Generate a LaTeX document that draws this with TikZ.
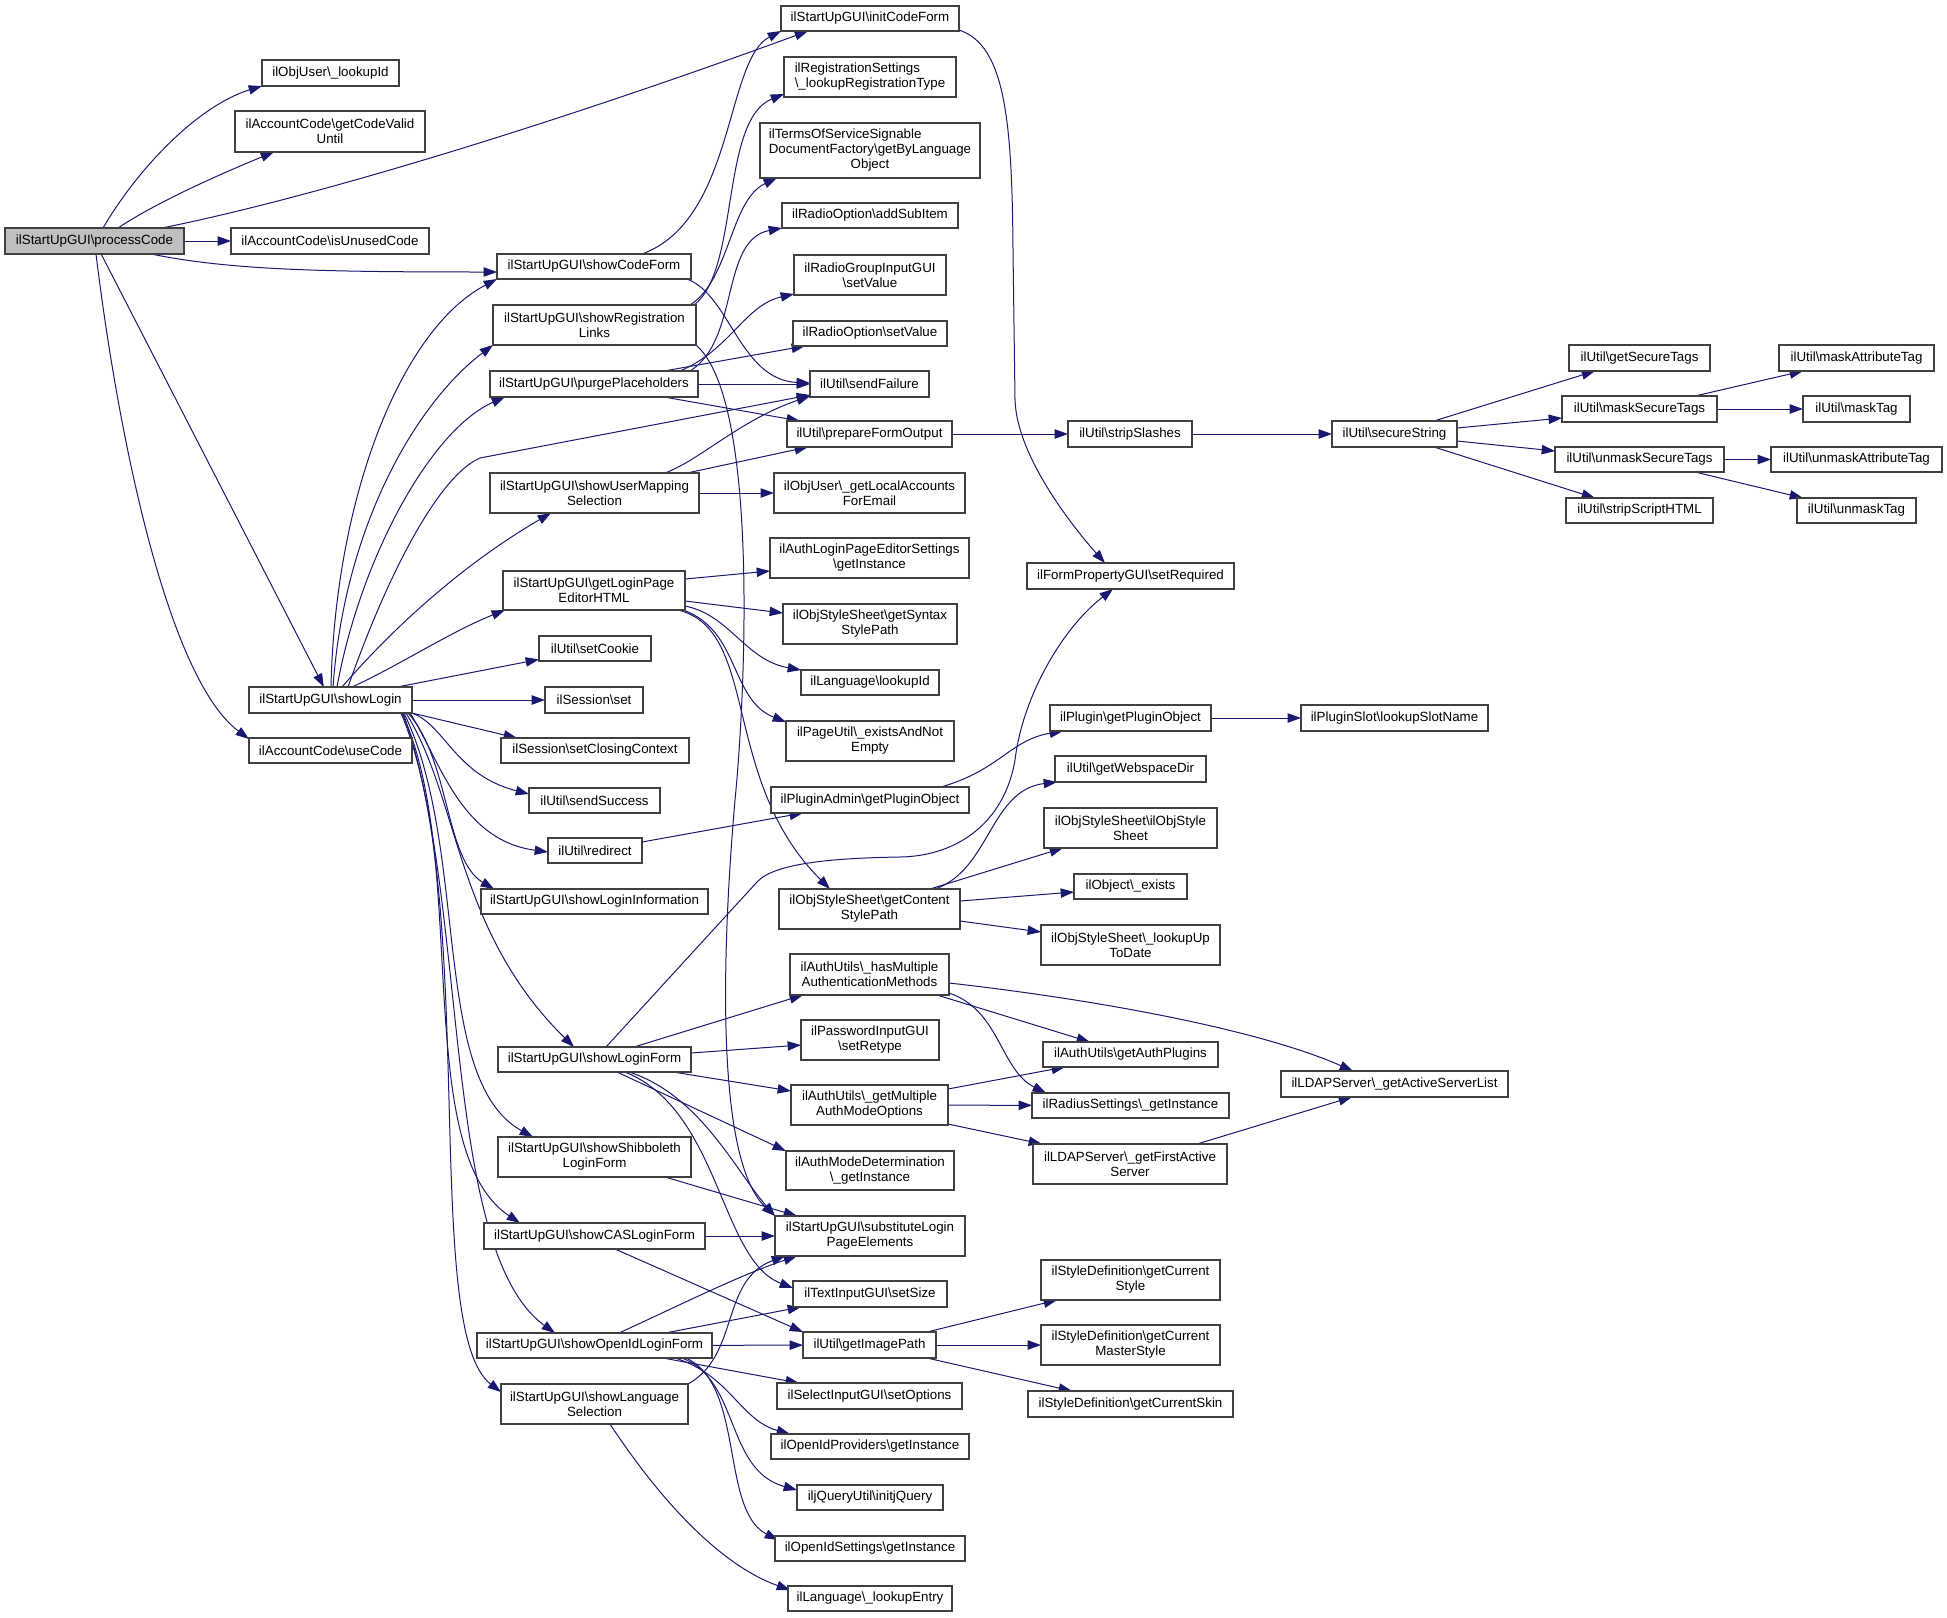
\documentclass[tikz,border=0pt]{standalone}
\usepackage{fontspec}
\setmainfont{Liberation Sans}
\usetikzlibrary{arrows.meta,calc}
\definecolor{edgeblue}{HTML}{191970}
\definecolor{boxline}{HTML}{404040}
\definecolor{rootfill}{HTML}{BFBFBF}
\newcommand\bs{\textbackslash}
\pgfdeclarelayer{bg}
\pgfsetlayers{bg,main}
\newcommand\mybox[7][]{%
  \node[bx,#1,minimum width={(#5-#3)*0.75pt},minimum height={(#6-#4)*0.75pt}] (#2) at ({(#3+#5)/2},{(#4+#6)/2}) {#7};}
\begin{document}
\begin{tikzpicture}[x=0.75pt,y=-0.75pt,
  bx/.style={draw=boxline,fill=white,line width=0.9pt,inner sep=0pt,outer sep=0pt,align=center,
    font=\fontsize{10}{11.25}\selectfont},
  cn/.style={draw=edgeblue,line width=0.75pt,-{Triangle[length=10pt,width=7pt]}}]
\useasboundingbox (0,0) rectangle (1947,1617);

% column 0/1
\mybox[fill=rootfill]{pc}{5}{228}{184}{254}{ilStartUpGUI\bs processCode}
\mybox{oulid}{262}{60}{399}{86}{ilObjUser\bs\_lookupId}
\mybox{gcvu}{235}{111}{425}{152}{ilAccountCode\bs getCodeValid\\Until}
\mybox{iuc}{231}{228}{429}{254}{ilAccountCode\bs isUnusedCode}
\mybox{login}{249}{687}{412}{713}{ilStartUpGUI\bs showLogin}
\mybox{use}{249}{738}{412}{763}{ilAccountCode\bs useCode}
% column 2
\mybox{scf}{497}{254}{691}{279}{ilStartUpGUI\bs showCodeForm}
\mybox{srl}{493}{305}{696}{345}{ilStartUpGUI\bs showRegistration\\Links}
\mybox{pph}{490}{371}{698}{397}{ilStartUpGUI\bs purgePlaceholders}
\mybox{sums}{490}{473}{699}{513}{ilStartUpGUI\bs showUserMapping\\Selection}
\mybox{glpe}{503}{571}{685}{610}{ilStartUpGUI\bs getLoginPage\\EditorHTML}
\mybox{cookie}{539}{636}{651}{661}{ilUtil\bs setCookie}
\mybox{sset}{545}{687}{643}{713}{ilSession\bs set}
\mybox{scc}{501}{738}{689}{763}{ilSession\bs setClosingContext}
\mybox{ssucc}{529}{788}{660}{813}{ilUtil\bs sendSuccess}
\mybox{redir}{548}{838}{642}{863}{ilUtil\bs redirect}
\mybox{sli}{481}{889}{708}{914}{ilStartUpGUI\bs showLoginInformation}
\mybox{slf}{498}{1047}{691}{1072}{ilStartUpGUI\bs showLoginForm}
\mybox{sslf}{498}{1137}{691}{1177}{ilStartUpGUI\bs showShibboleth\\LoginForm}
\mybox{scas}{484}{1223}{705}{1249}{ilStartUpGUI\bs showCASLoginForm}
\mybox{soid}{477}{1333}{712}{1358}{ilStartUpGUI\bs showOpenIdLoginForm}
\mybox{slang}{501}{1384}{688}{1424}{ilStartUpGUI\bs showLanguage\\Selection}
% column 3
\mybox{icf}{781}{6}{959}{31}{ilStartUpGUI\bs initCodeForm}
\mybox[align=left]{lrt}{784}{57}{956}{97}{ilRegistrationSettings\\\bs\_lookupRegistrationType}
\mybox{tos}{760}{123}{980}{178}{\begin{tabular}{@{}l@{}}ilTermsOfServiceSignable\\DocumentFactory\bs getByLanguage\\\multicolumn{1}{@{}c@{}}{Object}\end{tabular}}
\mybox{asi}{782}{203}{958}{228}{ilRadioOption\bs addSubItem}
\mybox{rgsv}{794}{255}{946}{295}{ilRadioGroupInputGUI\\\bs setValue}
\mybox{rosv}{793}{321}{947}{346}{ilRadioOption\bs setValue}
\mybox{sf}{810}{371}{929}{397}{ilUtil\bs sendFailure}
\mybox{pfo}{787}{421}{952}{447}{ilUtil\bs prepareFormOutput}
\mybox{glae}{774}{473}{965}{513}{ilObjUser\bs\_getLocalAccounts\\ForEmail}
\mybox{alpes}{770}{538}{969}{578}{ilAuthLoginPageEditorSettings\\\bs getInstance}
\mybox{gssp}{783}{604}{957}{644}{ilObjStyleSheet\bs getSyntax\\StylePath}
\mybox{llid}{801}{670}{939}{695}{ilLanguage\bs lookupId}
\mybox{pue}{786}{721}{954}{761}{ilPageUtil\bs\_existsAndNot\\Empty}
\mybox{pago}{771}{787}{969}{813}{ilPluginAdmin\bs getPluginObject}
\mybox{gcsp}{779}{889}{960}{929}{ilObjStyleSheet\bs getContent\\StylePath}
\mybox{hmam}{790}{954}{949}{995}{ilAuthUtils\bs\_hasMultiple\\AuthenticationMethods}
\mybox{pwr}{801}{1020}{939}{1060}{ilPasswordInputGUI\\\bs setRetype}
\mybox{gmamo}{791}{1085}{948}{1125}{ilAuthUtils\bs\_getMultiple\\AuthModeOptions}
\mybox{amd}{786}{1151}{954}{1190}{ilAuthModeDetermination\\\bs\_getInstance}
\mybox{subst}{775}{1216}{965}{1256}{ilStartUpGUI\bs substituteLogin\\PageElements}
\mybox{tss}{793}{1281}{947}{1307}{ilTextInputGUI\bs setSize}
\mybox{gip}{803}{1332}{936}{1358}{ilUtil\bs getImagePath}
\mybox{sso}{777}{1383}{962}{1409}{ilSelectInputGUI\bs setOptions}
\mybox{oidp}{771}{1434}{969}{1459}{ilOpenIdProviders\bs getInstance}
\mybox{jq}{797}{1485}{943}{1510}{iljQueryUtil\bs initjQuery}
\mybox{oids}{775}{1536}{965}{1561}{ilOpenIdSettings\bs getInstance}
\mybox{lle}{788}{1586}{952}{1611}{ilLanguage\bs\_lookupEntry}
% column 4
\mybox{ssl}{1068}{421}{1192}{447}{ilUtil\bs stripSlashes}
\mybox{fpsr}{1027}{563}{1234}{589}{ilFormPropertyGUI\bs setRequired}
\mybox{pgpo}{1050}{705}{1211}{731}{ilPlugin\bs getPluginObject}
\mybox{gwd}{1055}{756}{1206}{782}{ilUtil\bs getWebspaceDir}
\mybox{oss}{1044}{808}{1217}{848}{ilObjStyleSheet\bs ilObjStyle\\Sheet}
\mybox{oex}{1074}{874}{1187}{899}{ilObject\bs\_exists}
\mybox{lutd}{1041}{925}{1220}{965}{ilObjStyleSheet\bs\_lookupUp\\ToDate}
\mybox{gap}{1043}{1042}{1218}{1067}{ilAuthUtils\bs getAuthPlugins}
\mybox{rsgi}{1032}{1093}{1229}{1118}{ilRadiusSettings\bs\_getInstance}
\mybox{gfas}{1033}{1144}{1227}{1184}{ilLDAPServer\bs\_getFirstActive\\Server}
\mybox{gcs}{1041}{1260}{1220}{1300}{ilStyleDefinition\bs getCurrent\\Style}
\mybox{gcms}{1041}{1325}{1220}{1365}{ilStyleDefinition\bs getCurrent\\MasterStyle}
\mybox{gcsk}{1028}{1391}{1233}{1417}{ilStyleDefinition\bs getCurrentSkin}
% column 5
\mybox{ss}{1332}{421}{1457}{447}{ilUtil\bs secureString}
\mybox{psln}{1301}{705}{1488}{731}{ilPluginSlot\bs lookupSlotName}
\mybox{gasl}{1281}{1071}{1508}{1097}{ilLDAPServer\bs\_getActiveServerList}
% column 6/7
\mybox{gst}{1569}{345}{1710}{371}{ilUtil\bs getSecureTags}
\mybox{mst}{1562}{396}{1717}{422}{ilUtil\bs maskSecureTags}
\mybox{ust}{1555}{447}{1724}{472}{ilUtil\bs unmaskSecureTags}
\mybox{ssh}{1566}{498}{1713}{523}{ilUtil\bs stripScriptHTML}
\mybox{mat}{1779}{345}{1934}{371}{ilUtil\bs maskAttributeTag}
\mybox{mt}{1803}{396}{1910}{422}{ilUtil\bs maskTag}
\mybox{uat}{1771}{447}{1942}{472}{ilUtil\bs unmaskAttributeTag}
\mybox{ut}{1797}{498}{1916}{523}{ilUtil\bs unmaskTag}

\begin{pgfonlayer}{bg}
\fill[white] (0,0) rectangle (1947,1617);
% processCode
\draw[cn] ($(pc.north west)+(98,0)$) .. controls (140,165) and (200,105) .. (oulid.south west);
\draw[cn] ($(pc.north west)+(113,0)$) .. controls (160,200) and (230,170) .. ($(gcvu.north west)+(39,41)$);
\draw[cn] ($(pc.north west)+(157,0)$) .. controls (350,190) and (620,100) .. ($(icf.north west)+(27,25)$);
\draw[cn] (pc) -- (iuc);
\draw[cn] ($(pc.north west)+(146,26)$) .. controls (230,270) and (320,272) .. ($(scf.north west)+(0,18)$);
\draw[cn] (pc) -- (login);
\draw[cn] ($(pc.north west)+(91,26)$) .. controls (120,450) and (170,680) .. ($(use.north west)+(0,1)$);
% showLogin
\draw[cn] ($(login.north west)+(82,0)$) .. controls (335,500) and (400,330) .. ($(scf.north west)+(0,25)$);
\draw[cn] ($(login.north west)+(84,0)$) .. controls (345,520) and (420,400) .. ($(srl.north west)+(0,40)$);
\draw[cn] ($(login.north west)+(88,0)$) .. controls (360,560) and (430,430) .. ($(pph.north west)+(15,26)$);
\draw[cn] ($(login.north west)+(99,0)$) .. controls (389,570) and (440,475) .. (480,458) -- ($(sf.north west)+(0,24)$);
\draw[cn] ($(login.north west)+(93,0)$) .. controls (400,620) and (470,560) .. ($(sums.north west)+(61,40)$);
\draw[cn] ($(login.north west)+(103,0)$) .. controls (400,665) and (450,632) .. ($(glpe.north west)+(2,39)$);
\draw[cn] (login) -- (cookie);
\draw[cn] (login) -- (sset);
\draw[cn] (login.south east) -- ($(scc.north west)+(16,0)$);
\draw[cn] (login.south east) .. controls (445,725) and (455,775) .. ($(ssucc.north west)+(0,6)$);
\draw[cn] ($(login.north west)+(161,26)$) .. controls (440,760) and (460,840) .. ($(redir.north west)+(0,14)$);
\draw[cn] ($(login.north west)+(159,26)$) .. controls (450,760) and (445,860) .. ($(sli.north west)+(13,0)$);
\draw[cn] ($(login.north west)+(157,26)$) .. controls (460,800) and (455,930) .. ($(slf.north west)+(76,0)$);
\draw[cn] ($(login.north west)+(155,26)$) .. controls (470,850) and (430,1080) .. ($(sslf.north west)+(35,0)$);
\draw[cn] ($(login.north west)+(153,26)$) .. controls (470,860) and (410,1150) .. ($(scas.north west)+(36,0)$);
\draw[cn] ($(login.north west)+(154,26)$) .. controls (470,900) and (440,1250) .. ($(soid.north west)+(78,0)$);
\draw[cn] ($(login.north west)+(152,26)$) .. controls (480,900) and (420,1330) .. ($(slang.north west)+(0,8)$);
% showCodeForm
\draw[cn] ($(scf.north west)+(145,0)$) .. controls (735,220) and (725,60) .. ($(icf.north west)+(0,25)$);
\draw[cn] ($(scf.north west)+(190,25)$) .. controls (730,295) and (740,380) .. ($(sf.north west)+(0,12)$);
% showRegistrationLinks
\draw[cn] ($(srl.north west)+(201,0)$) .. controls (740,270) and (720,120) .. ($(lrt.north west)+(0,37)$);
\draw[cn] ($(srl.north west)+(197,0)$) .. controls (730,280) and (730,200) .. ($(tos.north west)+(17,55)$);
\draw[cn] ($(srl.north west)+(203,40)$) .. controls (760,400) and (745,700) .. (735,800) .. controls (722,950) and (715,1160) .. (subst.north west);
% purgePlaceholders
\draw[cn] ($(pph.north west)+(200,0)$) .. controls (740,340) and (720,240) .. ($(asi.north west)+(0,25)$);
\draw[cn] ($(pph.north west)+(190,0)$) .. controls (730,350) and (745,305) .. ($(rgsv.north west)+(0,39)$);
\draw[cn] ($(pph.north west)+(174,0)$) -- ($(rosv.north west)+(12,25)$);
\draw[cn] (pph) -- (sf);
\draw[cn] ($(pph.north west)+(174,26)$) -- ($(pfo.north west)+(13,0)$);
% showUserMappingSelection
\draw[cn] ($(sums.north west)+(175,0)$) .. controls (700,460) and (740,420) .. ($(sf.north west)+(0,25)$);
\draw[cn] ($(sums.north west)+(197,0)$) -- ($(pfo.north west)+(21,26)$);
\draw[cn] (sums) -- (glae);
% secure string chain
\draw[cn] (pfo) -- (ssl);
\draw[cn] (ssl) -- (ss);
\draw[cn] ($(ss.north west)+(102,0)$) -- ($(gst.north west)+(26,26)$);
\draw[cn] ($(ss.north west)+(125,7)$) -- ($(mst.north west)+(0,22)$);
\draw[cn] ($(ss.north west)+(125,20)$) -- ($(ust.north west)+(0,4)$);
\draw[cn] ($(ss.north west)+(102,26)$) -- ($(ssh.north west)+(29,0)$);
\draw[cn] ($(mst.north west)+(133,0)$) -- ($(mat.north west)+(24,26)$);
\draw[cn] (mst) -- (mt);
\draw[cn] (ust) -- (uat);
\draw[cn] ($(ust.north west)+(140,25)$) -- ($(ut.north west)+(6,0)$);
% setRequired
\draw[cn] ($(icf.north west)+(178,24)$) .. controls (1005,45) and (1012,120) .. (1013,250) -- (1015,400) .. controls (1017,460) and (1080,535) .. ($(fpsr.north west)+(78,0)$);
\draw[cn] ($(slf.north west)+(108,0)$) -- (757,882) .. controls (775,862) and (840,858) .. (900,857) .. controls (960,856) and (1005,820) .. (1015,760) .. controls (1022,700) and (1060,630) .. ($(fpsr.north west)+(86,26)$);
% plugin
\draw[cn] ($(redir.north west)+(94,4)$) -- ($(pago.north west)+(32,26)$);
\draw[cn] ($(pago.north west)+(170,0)$) .. controls (1000,770) and (1010,740) .. ($(pgpo.north west)+(13,26)$);
\draw[cn] (pgpo) -- (psln);
% getLoginPageEditorHTML
\draw[cn] ($(glpe.north west)+(182,8)$) -- ($(alpes.north west)+(0,33)$);
\draw[cn] ($(glpe.north west)+(182,30)$) -- ($(gssp.north west)+(0,9)$);
\draw[cn] ($(glpe.north west)+(182,35)$) .. controls (730,615) and (745,660) .. (llid.north west);
\draw[cn] ($(glpe.north west)+(180,39)$) .. controls (740,630) and (730,700) .. ($(pue.north west)+(0,1)$);
\draw[cn] ($(glpe.north west)+(175,39)$) .. controls (760,630) and (720,780) .. ($(gcsp.north west)+(51,0)$);
% getContentStylePath
\draw[cn] ($(gcsp.north west)+(156,0)$) .. controls (990,870) and (990,790) .. ($(gwd.north west)+(2,26)$);
\draw[cn] ($(gcsp.north west)+(151,0)$) -- ($(oss.north west)+(19,40)$);
\draw[cn] ($(gcsp.north west)+(181,12)$) -- ($(oex.north west)+(0,18)$);
\draw[cn] ($(gcsp.north west)+(181,32)$) -- ($(lutd.north west)+(0,7)$);
% showLoginForm
\draw[cn] ($(slf.north west)+(136,0)$) -- ($(hmam.north west)+(13,41)$);
\draw[cn] ($(slf.north west)+(193,6)$) -- ($(pwr.north west)+(0,25)$);
\draw[cn] ($(slf.north west)+(175,25)$) -- ($(gmamo.north west)+(0,6)$);
\draw[cn] ($(slf.north west)+(119,25)$) -- (amd.north west);
\draw[cn] ($(slf.north west)+(131,25)$) .. controls (700,1095) and (735,1170) .. (subst.north west);
\draw[cn] ($(slf.north west)+(127,25)$) .. controls (720,1110) and (720,1260) .. ($(tss.north west)+(0,7)$);
% auth
\draw[cn] ($(hmam.north west)+(159,29)$) .. controls (1100,1000) and (1260,1030) .. ($(gasl.north west)+(72,0)$);
\draw[cn] ($(hmam.north west)+(147,41)$) -- ($(gap.north west)+(47,0)$);
\draw[cn] ($(hmam.north west)+(159,39)$) .. controls (1000,1010) and (1000,1070) .. ($(rsgi.north west)+(14,0)$);
\draw[cn] ($(gmamo.north west)+(157,4)$) -- ($(gap.north west)+(22,25)$);
\draw[cn] (gmamo) -- (rsgi);
\draw[cn] ($(gmamo.north west)+(157,39)$) -- ($(gfas.north west)+(9,0)$);
\draw[cn] ($(gfas.north west)+(164,0)$) -- ($(gasl.north west)+(71,26)$);
% login forms
\draw[cn] ($(sslf.north west)+(167,40)$) -- ($(subst.north west)+(22,0)$);
\draw[cn] (scas) -- (subst);
\draw[cn] ($(scas.north west)+(131,26)$) -- (gip.north west);
\draw[cn] ($(soid.north west)+(142,0)$) .. controls (680,1305) and (740,1275) .. ($(subst.north west)+(22,40)$);
\draw[cn] ($(soid.north west)+(188,0)$) -- ($(tss.north west)+(8,26)$);
\draw[cn] (soid) -- (gip);
\draw[cn] ($(soid.north west)+(186,25)$) -- ($(sso.north west)+(22,0)$);
\draw[cn] ($(soid.north west)+(198,25)$) .. controls (730,1375) and (740,1420) .. ($(oidp.north west)+(19,0)$);
\draw[cn] ($(soid.north west)+(205,25)$) .. controls (740,1380) and (725,1470) .. ($(jq.north west)+(0,5)$);
\draw[cn] ($(soid.north west)+(209,25)$) .. controls (745,1385) and (720,1510) .. ($(oids.north west)+(3,4)$);
\draw[cn] ($(slang.north west)+(187,0)$) .. controls (740,1355) and (720,1280) .. ($(subst.north west)+(10,40)$);
\draw[cn] ($(slang.north west)+(109,40)$) .. controls (660,1500) and (720,1565) .. ($(lle.north west)+(2,4)$);
% image path
\draw[cn] ($(gip.north west)+(124,0)$) -- ($(gcs.north west)+(16,40)$);
\draw[cn] (gip) -- (gcms);
\draw[cn] ($(gip.north west)+(124,26)$) -- ($(gcsk.north west)+(44,0)$);
\end{pgfonlayer}
\end{tikzpicture}
\end{document}
